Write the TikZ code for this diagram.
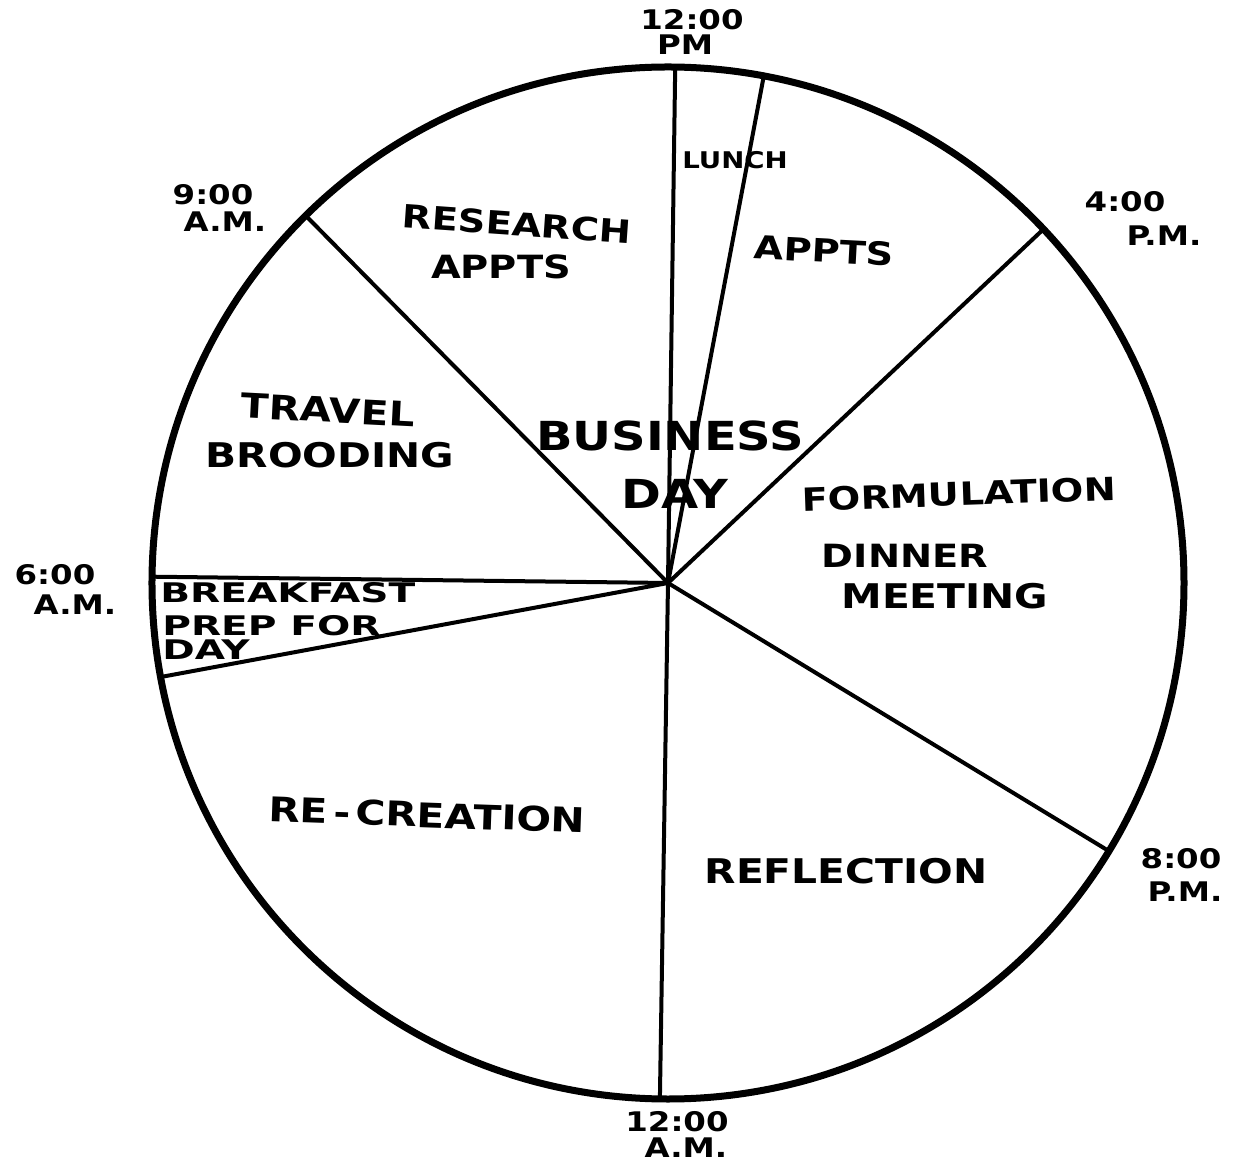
\documentclass[tikz,border=0pt]{standalone}
\usepackage{fontspec}
\newfontfamily\hand[FakeStretch=1.2]{DejaVu Sans}
\newfontfamily\handwide[FakeStretch=1.45]{DejaVu Sans}
\begin{document}
\begin{tikzpicture}[
    x=0.5pt, y=0.5pt,
    rim/.style={line width=3.5pt},
    spoke/.style={line width=2pt},
    hour/.style={font=\hand\bfseries\fontsize{13.5}{15}\selectfont, inner sep=0pt},
    slice/.style={font=\hand\bfseries\fontsize{#1}{#1}\selectfont, inner sep=0pt},
    slice/.default=16,
    note/.style={font=\handwide\bfseries\fontsize{13.5}{14}\selectfont, inner sep=0pt, anchor=west}
]
\useasboundingbox (-668,-583) rectangle (568,583);

% Centre and points on the rim
\coordinate (c) at (0,0);
\coordinate (pm12) at (89.2:516);
\coordinate (lunch) at (79.3:516);
\coordinate (pm4) at (43.3:516);
\coordinate (pm8) at (-31.3:516);
\coordinate (am12) at (269.1:516);
\coordinate (prep) at (190.5:516);
\coordinate (am6) at (179.3:516);
\coordinate (am9) at (134.6:516);

% Clock face and slices
\draw[rim] (c) circle[radius=516];
\foreach \p in {pm12,lunch,pm4,pm8,am12,prep,am6,am9}
    \draw[spoke] (c) -- (\p);

% Hours
\node[hour] (h12a) at (24,563) {12:00};
\node[hour] (h12b) at (17,538) {PM};
\node[hour] (h9a) at (-455,388) {9:00};
\node[hour] (h9b) at (-443,361) {A.M.};
\node[hour] (h4a) at (457,381) {4:00};
\node[hour] (h4b) at (496,347) {P.M.};
\node[hour] (h6a) at (-613,8) {6:00};
\node[hour] (h6b) at (-593,-22) {A.M.};
\node[hour] (h8a) at (513,-276) {8:00};
\node[hour] (h8b) at (517,-309) {P.M.};
\node[hour] (h0a) at (9,-539) {12:00};
\node[hour] (h0b) at (18,-565) {A.M.};

% Activities
\node[slice=11.5] (lunchtxt) at (67,423) {LUNCH};
\node[slice, rotate=-4] (research) at (-151,359) {RESEARCH};
\node[slice] (appts1) at (-167,316) {APPTS};
\node[slice, rotate=-3] (appts2) at (156,332) {APPTS};
\node[slice=17, rotate=-3] (travel) at (-340,173) {TRAVEL};
\node[slice=17] (brooding) at (-338,128) {BROODING};
\node[slice=20] (business) at (2,147) {BUSINESS};
\node[slice=20] (day) at (7,89) {DAY};
\node[slice, rotate=2] (formulation) at (291,89) {FORMULATION};
\node[slice] (dinner) at (237,27) {DINNER};
\node[slice=17] (meeting) at (277,-13) {MEETING};
\node[note] (breakfast) at (-508,-10) {BREAKFAST};
\node[note] (prepfor) at (-506,-43) {PREP FOR};
\node[note] (prepday) at (-506,-67) {DAY};
\node[slice=17, rotate=-2] (recreation) at (-241,-232) {RE\,-\,CREATION};
\node[slice=17] (reflection) at (178,-288) {REFLECTION};

\end{tikzpicture}
\end{document}
